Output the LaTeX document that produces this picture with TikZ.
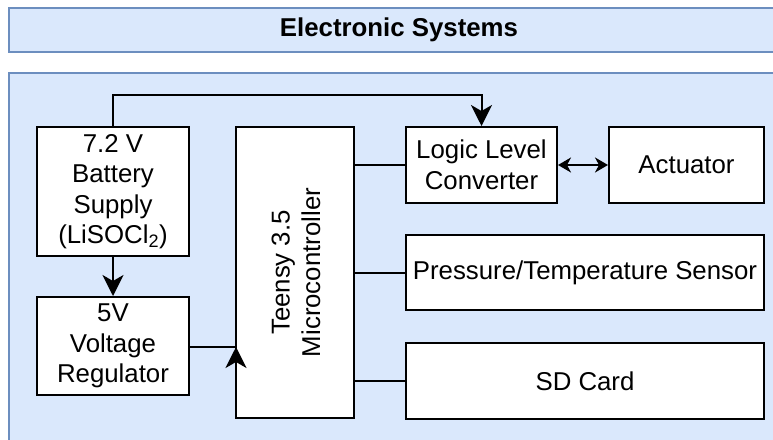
\documentclass[tikz,border=0pt]{standalone}
\usepackage{fontspec}
\setmainfont{Liberation Sans}
\usetikzlibrary{arrows.meta,positioning}
\definecolor{panelfill}{HTML}{DAE8FC}
\definecolor{paneldraw}{HTML}{6C8EBF}
\begin{document}
\begin{tikzpicture}[x=1pt,y=-1pt,
  panel/.style={fill=panelfill,draw=paneldraw,line width=2pt},
  blockbox/.style={draw=black,fill=white,line width=2pt,align=center,inner sep=0pt,
    font=\fontsize{25.8}{30.5}\selectfont},
  wire/.style={draw=black,line width=2pt},
  bigtip/.style={-{Stealth[length=21pt,width=21pt,inset=6pt]}},
  dbltip/.style={{Stealth[length=13pt,width=15pt,inset=4pt]}-{Stealth[length=13pt,width=15pt,inset=4pt]}}
]
\useasboundingbox (0,0) rectangle (773,439);
\clip (0,0) rectangle (773,439);
\fill[white] (0,0) rectangle (773,439);
% panels
\draw[panel] (8.5,8) rectangle (800,51.5);
\node[font=\fontsize{25.8}{30}\selectfont\bfseries] (title) at (399,30) {Electronic Systems};
\draw[panel] (8.5,73) rectangle (800,460);
% blocks
\node[blockbox,minimum width=152pt,minimum height=129pt] (bat) at (113,191.5)
  {7.2 V\\Battery\\Supply\\(LiSOCl\textsubscript{2})};
\node[blockbox,minimum width=152pt,minimum height=98pt] (reg) at (113,346)
  {5V\\Voltage\\Regulator};
\node[blockbox,minimum width=118pt,minimum height=291pt] (mcu) at (295,272.5) {};
\node[rotate=90,align=center,font=\fontsize{25.8}{30.5}\selectfont] (mcutext) at (296,272.5)
  {Teensy 3.5\\Microcontroller};
\node[blockbox,minimum width=151pt,minimum height=76pt] (llc) at (481.5,165)
  {Logic Level\\Converter};
\node[blockbox,minimum width=155pt,minimum height=76pt] (act) at (686.5,165)
  {Actuator};
\node[blockbox,minimum width=358pt,minimum height=75pt] (pts) at (585,272.5)
  {Pressure/Temperature Sensor};
\node[blockbox,minimum width=358pt,minimum height=76pt] (sd) at (585,381)
  {SD Card};
% connectors
\coordinate (topL) at (113,95);
\coordinate (topR) at (481.5,95);
\draw[wire,bigtip] (bat.north) -- (topL) -- (topR) -- (llc.north);
\draw[wire,bigtip] (bat.south) -- (reg.north);
\coordinate (mcuin) at (236,347);
\coordinate (mcuinlow) at (236,370);
\draw[wire] (reg.east |- mcuin) -- (mcuin);
\draw[wire,bigtip] (mcuinlow) -- (mcuin);
\draw[wire] (mcu.east |- llc.west) -- (llc.west);
\draw[wire] (mcu.east |- pts.west) -- (pts.west);
\draw[wire] (mcu.east |- sd.west) -- (sd.west);
\draw[wire,dbltip] (llc.east) -- (act.west);
\end{tikzpicture}
\end{document}
